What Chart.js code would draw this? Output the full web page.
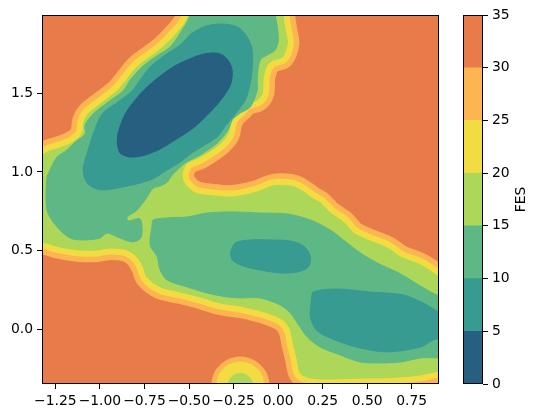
<!DOCTYPE html>
<html>
<head>
<meta charset="utf-8">
<script src="https://cdn.jsdelivr.net/npm/chart.js@4.4.1/dist/chart.umd.min.js"></script>
<style>
  html, body { margin: 0; padding: 0; background: #fff; }
  .wrap { position: relative; width: 538px; height: 418px; }
  .wrap canvas { position: absolute; left: 0; top: 0; }
</style>
</head>
<body>
<div class="wrap">
  <canvas id="fes" width="538" height="418"></canvas>
  <canvas id="bar" width="538" height="418"></canvas>
</div>
<script>
const xTicks = [-1.25, -1, -0.75, -0.5, -0.25, 0, 0.25, 0.5, 0.75];
const yTicks = [0, 0.5, 1, 1.5];
const xRange = [-1.325, 0.903];
const yRange = [-0.348, 1.998];
const levels = [0, 5, 10, 15, 20, 25, 30, 35];
const levelColors = ['#275f80', '#389b91', '#5db886', '#acd758', '#f2dc42', '#fdb551', '#e87b4a'];

// contour outlines, (x, y)
// edge of the FES<20 region; the 20-25 and 25-30 bands hug it from outside
const fes20 = [
  [-0.504, 2.15], [0.029, 2.15], [0.029, 1.990], [0.040, 1.903], [0.052, 1.820], [0.024, 1.731],
  [-0.027, 1.712], [-0.061, 1.680], [-0.083, 1.604], [-0.089, 1.502], [-0.117, 1.458], [-0.173, 1.439],
  [-0.212, 1.395], [-0.252, 1.350], [-0.268, 1.312], [-0.285, 1.235], [-0.342, 1.165], [-0.437, 1.095],
  [-0.510, 1.057], [-0.538, 0.994], [-0.527, 0.930], [-0.465, 0.867], [-0.353, 0.847], [-0.252, 0.841],
  [-0.117, 0.873], [-0.027, 0.911], [0.069, 0.911], [0.125, 0.886], [0.198, 0.828], [0.237, 0.803],
  [0.293, 0.739], [0.366, 0.682], [0.423, 0.612], [0.501, 0.568], [0.613, 0.517], [0.687, 0.460],
  [0.799, 0.409], [0.872, 0.358], [0.906, 0.332], [1.0, 0.320], [1.0, -0.259], [0.906, -0.265],
  [0.799, -0.290], [0.687, -0.303], [0.574, -0.310], [0.462, -0.310], [0.310, -0.316], [0.181, -0.310],
  [0.125, -0.278], [0.108, -0.195], [0.085, -0.087], [0.069, -0.004], [0.029, 0.059], [-0.061, 0.104],
  [-0.139, 0.129], [-0.212, 0.148], [-0.324, 0.167], [-0.437, 0.205], [-0.549, 0.237], [-0.662, 0.269],
  [-0.735, 0.332], [-0.757, 0.396], [-0.791, 0.460], [-0.847, 0.504], [-0.943, 0.517], [-1.016, 0.504],
  [-1.111, 0.504], [-1.224, 0.523], [-1.327, 0.555], [-1.45, 0.555], [-1.45, 1.108], [-1.327, 1.108],
  [-1.280, 1.134], [-1.224, 1.153], [-1.156, 1.184], [-1.100, 1.241], [-1.089, 1.318], [-1.066, 1.369],
  [-0.982, 1.445], [-0.903, 1.515], [-0.847, 1.591], [-0.791, 1.668], [-0.718, 1.731], [-0.645, 1.795],
  [-0.578, 1.871], [-0.527, 1.941], [-0.504, 1.998]
];
const fes15Upper = [
  [-0.493, 2.1], [-0.016, 2.1], [-0.016, 1.998], [-0.004, 1.922], [0.001, 1.839], [-0.016, 1.776],
  [-0.061, 1.744], [-0.100, 1.712], [-0.117, 1.604], [-0.117, 1.522], [-0.156, 1.413], [-0.212, 1.375],
  [-0.257, 1.331], [-0.280, 1.267], [-0.342, 1.184], [-0.437, 1.108], [-0.521, 1.057], [-0.594, 0.981],
  [-0.622, 0.936], [-0.662, 0.911], [-0.701, 0.898], [-0.735, 0.841], [-0.791, 0.758], [-0.847, 0.714],
  [-0.842, 0.689], [-0.774, 0.701], [-0.768, 0.587], [-0.813, 0.555], [-0.887, 0.580], [-0.960, 0.612],
  [-0.999, 0.580], [-1.094, 0.568], [-1.167, 0.580], [-1.240, 0.650], [-1.297, 0.758], [-1.297, 0.962],
  [-1.280, 1.013], [-1.240, 1.095], [-1.184, 1.140], [-1.139, 1.191], [-1.083, 1.241], [-1.083, 1.299],
  [-1.038, 1.369], [-0.954, 1.445], [-0.870, 1.515], [-0.830, 1.585], [-0.763, 1.668], [-0.690, 1.731],
  [-0.606, 1.795], [-0.549, 1.884], [-0.493, 1.998]
];
const fes15Lower = [
  [-0.707, 0.663], [-0.701, 0.695], [-0.622, 0.708], [-0.510, 0.714], [-0.398, 0.739], [-0.252, 0.746],
  [-0.100, 0.739], [0.052, 0.733], [0.181, 0.695], [0.293, 0.631], [0.366, 0.568], [0.462, 0.485],
  [0.557, 0.421], [0.687, 0.352], [0.799, 0.275], [0.906, 0.212], [1.0, 0.205], [1.0, -0.157],
  [0.799, -0.182], [0.687, -0.208], [0.574, -0.214], [0.462, -0.208], [0.333, -0.157], [0.237, -0.113],
  [0.164, -0.049], [0.108, 0.040], [0.069, 0.104], [0.012, 0.154], [-0.100, 0.199], [-0.212, 0.199],
  [-0.285, 0.205], [-0.398, 0.231], [-0.510, 0.269], [-0.622, 0.313], [-0.662, 0.377], [-0.678, 0.460],
  [-0.718, 0.536]
];
const fes10Upper = [
  [-0.493, 1.875], [-0.420, 1.922], [-0.325, 1.941], [-0.229, 1.922], [-0.173, 1.858], [-0.145, 1.776],
  [-0.145, 1.668], [-0.156, 1.566], [-0.184, 1.458], [-0.240, 1.369], [-0.297, 1.292], [-0.342, 1.223],
  [-0.476, 1.127], [-0.549, 1.064], [-0.622, 1.013], [-0.718, 0.949], [-0.870, 0.905], [-0.999, 0.886],
  [-1.072, 0.930], [-1.094, 1.013], [-1.083, 1.076], [-1.066, 1.140], [-1.038, 1.241], [-0.987, 1.369],
  [-0.898, 1.445], [-0.819, 1.515], [-0.774, 1.585], [-0.718, 1.668], [-0.634, 1.744], [-0.549, 1.807]
];
const fes10Middle = [
  [-0.268, 0.491], [-0.240, 0.549], [-0.156, 0.568], [-0.044, 0.568], [0.069, 0.561], [0.142, 0.530],
  [0.181, 0.466], [0.170, 0.396], [0.108, 0.364], [0.012, 0.358], [-0.100, 0.377], [-0.196, 0.402],
  [-0.257, 0.441]
];
const fes10Right = [
  [0.187, 0.186], [0.198, 0.237], [0.333, 0.256], [0.518, 0.237], [0.703, 0.218], [0.815, 0.167],
  [0.906, 0.110], [1.0, 0.104], [1.0, -0.030], [0.872, -0.068], [0.799, -0.113], [0.613, -0.144],
  [0.462, -0.119], [0.333, -0.074], [0.220, -0.011], [0.181, 0.078]
];
const fes5 = [
  [-0.903, 1.178], [-0.898, 1.248], [-0.858, 1.369], [-0.802, 1.458], [-0.757, 1.515], [-0.690, 1.585],
  [-0.589, 1.668], [-0.510, 1.712], [-0.437, 1.744], [-0.364, 1.757], [-0.313, 1.744], [-0.274, 1.699],
  [-0.257, 1.636], [-0.268, 1.553], [-0.313, 1.470], [-0.381, 1.381], [-0.476, 1.280], [-0.578, 1.204],
  [-0.662, 1.146], [-0.746, 1.108], [-0.830, 1.095], [-0.887, 1.121]
];
// small basin at the bottom edge
const spot30 = [
  [-0.049, -0.449], [-0.049, -0.362], [-0.071, -0.268], [-0.131, -0.201], [-0.212, -0.176],
  [-0.294, -0.201], [-0.353, -0.268], [-0.375, -0.362], [-0.375, -0.449]
];
const spot25 = [
  [-0.078, -0.449], [-0.078, -0.362], [-0.096, -0.284], [-0.145, -0.228], [-0.212, -0.208],
  [-0.280, -0.228], [-0.329, -0.284], [-0.347, -0.362], [-0.347, -0.449]
];
const spot20 = [
  [-0.142, -0.449], [-0.142, -0.362], [-0.152, -0.321], [-0.177, -0.292], [-0.212, -0.281],
  [-0.247, -0.292], [-0.273, -0.321], [-0.283, -0.362], [-0.283, -0.449]
];

Chart.defaults.font.family = 'DejaVu Sans';
Chart.defaults.font.size = 13.9;
Chart.defaults.color = '#000';

const closed = arr => arr.concat([arr[0]]).map(([x, y]) => ({x, y}));

function area(pts, color, order) {
  return {
    data: closed(pts), fill: 'shape', backgroundColor: color, borderColor: color, borderWidth: 1,
    pointRadius: 0, tension: 0.3, order, clip: 0
  };
}
function rim(pts, color, width, order) {
  return {
    data: closed(pts), fill: false, borderColor: color, borderWidth: width,
    borderJoinStyle: 'round', borderCapStyle: 'round', pointRadius: 0, tension: 0.3, order, clip: 0
  };
}

const frame = {
  id: 'frame',
  afterDraw(chart) {
    const {ctx, chartArea: a} = chart;
    ctx.save();
    ctx.strokeStyle = '#000';
    ctx.lineWidth = 1;
    ctx.strokeRect(Math.round(a.left) + 0.5, Math.round(a.top) + 0.5,
      Math.round(a.right - a.left) - 1, Math.round(a.bottom - a.top) - 1);
    ctx.restore();
  }
};

const backdrop = {
  id: 'backdrop',
  beforeDatasetsDraw(chart) {
    const {ctx, chartArea: a} = chart;
    ctx.save();
    ctx.fillStyle = levelColors[6];
    ctx.fillRect(a.left, a.top, a.right - a.left, a.bottom - a.top);
    ctx.restore();
  }
};

const tickStyle = {drawOnChartArea: false, tickLength: 5, color: '#000', tickWidth: 1};
const minus = v => String(v).replace('-', '\u2212');

new Chart(document.getElementById('fes'), {
  type: 'line',
  data: {
    datasets: [
      rim(fes20, levelColors[5], 24, 20),
      rim(fes20, levelColors[4], 13, 19),
      area(fes20, levelColors[3], 18),
      area(fes15Upper, levelColors[2], 17),
      area(fes15Lower, levelColors[2], 17),
      area(fes10Upper, levelColors[1], 16),
      area(fes10Middle, levelColors[1], 16),
      area(fes10Right, levelColors[1], 16),
      area(fes5, levelColors[0], 15),
      area(spot30, levelColors[5], 14),
      area(spot25, levelColors[4], 13),
      area(spot20, levelColors[3], 12)
    ]
  },
  options: {
    responsive: false,
    animation: false,
    events: [],
    layout: {padding: {left: 0, top: 15, right: 99, bottom: 0}},
    plugins: {legend: {display: false}, tooltip: {enabled: false}},
    scales: {
      x: {
        type: 'linear', min: xRange[0], max: xRange[1],
        afterBuildTicks: s => { s.ticks = xTicks.map(value => ({value})); },
        afterFit: s => { s.height = 34; },
        ticks: {padding: 4, maxRotation: 0, callback: v => minus(v.toFixed(2))},
        grid: tickStyle, border: {display: false}
      },
      y: {
        type: 'linear', min: yRange[0], max: yRange[1],
        afterBuildTicks: s => { s.ticks = yTicks.map(value => ({value})); },
        afterFit: s => { s.width = 42; },
        ticks: {padding: 4, callback: v => minus(v.toFixed(1))},
        grid: tickStyle, border: {display: false}
      }
    }
  },
  plugins: [backdrop, frame]
});

const cbarTitle = {
  id: 'cbarTitle',
  afterDraw(chart) {
    const {ctx, chartArea: a} = chart;
    ctx.save();
    ctx.translate(521, (a.top + a.bottom) / 2);
    ctx.rotate(-Math.PI / 2);
    ctx.font = '13.9px "DejaVu Sans"';
    ctx.fillStyle = '#000';
    ctx.textAlign = 'center';
    ctx.textBaseline = 'middle';
    ctx.fillText('FES', 0, 0);
    ctx.restore();
  }
};

new Chart(document.getElementById('bar'), {
  type: 'bar',
  data: {
    labels: ['FES'],
    datasets: levelColors.map((c, i) => ({
      data: [levels[i + 1] - levels[i]], backgroundColor: c, borderWidth: 0,
      barPercentage: 1, categoryPercentage: 1
    }))
  },
  options: {
    responsive: false,
    animation: false,
    events: [],
    layout: {padding: {left: 463, top: 15, right: 0, bottom: 34}},
    plugins: {legend: {display: false}, tooltip: {enabled: false}},
    scales: {
      x: {stacked: true, display: false},
      y: {
        stacked: true, position: 'right', min: levels[0], max: levels[levels.length - 1],
        afterBuildTicks: s => { s.ticks = levels.map(value => ({value})); },
        afterFit: s => { s.width = 55; },
        ticks: {padding: 4},
        grid: tickStyle, border: {display: false}
      }
    }
  },
  plugins: [frame, cbarTitle]
});
</script>
</body>
</html>
